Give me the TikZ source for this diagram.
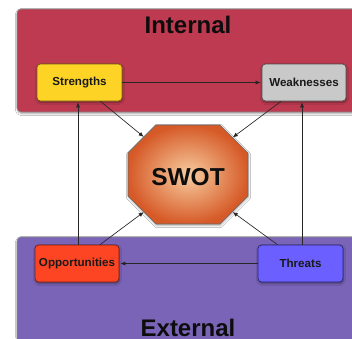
\documentclass[tikz,border=0pt]{standalone}
\usepackage{fontspec}
\setmainfont{Liberation Sans}
\usetikzlibrary{arrows.meta,shadows,shadows.blur,calc}
\definecolor{intred}{HTML}{BE3A50}
\definecolor{extpurple}{HTML}{7A64B7}
\definecolor{stryellow}{HTML}{FDD426}
\definecolor{weakgray}{HTML}{C9C9C9}
\definecolor{opporange}{HTML}{FE4523}
\definecolor{thrblue}{HTML}{6B5FFF}
\definecolor{octlight}{HTML}{F8CDA0}
\definecolor{octdark}{HTML}{D65A28}
\tikzset{
  region/.style={draw=black!45, line width=0.6pt, rounded corners=4pt,
    blur shadow={shadow blur steps=6, shadow xshift=0.5pt, shadow yshift=-1.5pt, shadow opacity=35}},
  itembox/.style={rounded corners=3.5pt, line width=0.7pt, minimum height=37pt,
    inner sep=1pt, font=\fontsize{11.6}{13}\selectfont\bfseries, text=black!90,
    blur shadow={shadow blur steps=5, shadow xshift=0.5pt, shadow yshift=-1.5pt, shadow opacity=40}},
  title/.style={font=\fontsize{24}{28}\selectfont\bfseries, anchor=base, text=black!95},
  arr/.style={-{Latex[length=5pt,width=4.2pt]}, line width=0.65pt, draw=black!85, shorten >=1pt},
}
\begin{document}
\begin{tikzpicture}[x=1pt,y=-1pt]
\useasboundingbox (0,0) rectangle (352,338);
% regions
\fill[white] (0,0) rectangle (352,338);
\filldraw[region, fill=intred] (17,9) rectangle (362,112);
\filldraw[region, fill=extpurple] (17,237) rectangle (362,346);
\node[title] (internal) at (188,33) {Internal};
\node[title] (external) at (188,336.5) {External};
% octagon
\shade[inner color=octlight, outer color=octdark, draw=black!60, line width=0.6pt,
  blur shadow={shadow blur steps=5, shadow xshift=0.5pt, shadow yshift=-1.5pt, shadow opacity=30}]
  (156,125) -- (220,125) -- (248,153) -- (248,196) -- (220,224) -- (156,224) -- (128,196) -- (128,153) -- cycle;
\node[font=\fontsize{24.5}{28}\selectfont\bfseries, text=black!95] (swot) at (188,177) {SWOT};
\coordinate (swotNW) at (144.5,137.5);
\coordinate (swotNE) at (232,138);
\coordinate (swotSW) at (144.5,211.5);
\coordinate (swotSE) at (232,211.5);
% boxes
\node[itembox, fill=stryellow, draw=stryellow!45!black, minimum width=85pt] (str) at (79.5,82.5) {Strengths};
\node[itembox, fill=weakgray, draw=weakgray!40!black, minimum width=84pt] (wea) at (304,82.5) {Weaknesses};
\node[itembox, fill=opporange, draw=opporange!45!black, minimum width=84pt] (opp) at (77,263.5) {Opportunities};
\node[itembox, fill=thrblue, draw=thrblue!40!black, minimum width=85pt] (thr) at (300.5,263.5) {Threats};
% connectors
\draw[arr] (str.east) -- (wea.west);
\draw[arr] (thr.west) -- (opp.east);
\draw[arr] ([xshift=1pt]opp.north) -- ([xshift=1pt]opp.north |- str.south);
\draw[arr] ([xshift=1.5pt]thr.north) -- ([xshift=1.5pt]thr.north |- wea.south);
\draw[arr] ([xshift=21pt]str.south) -- (swotNW);
\draw[arr] ([xshift=-23pt]wea.south) -- (swotNE);
\draw[arr] ([xshift=23pt]opp.north) -- (swotSW);
\draw[arr] ([xshift=-23pt]thr.north) -- (swotSE);
\end{tikzpicture}
\end{document}
